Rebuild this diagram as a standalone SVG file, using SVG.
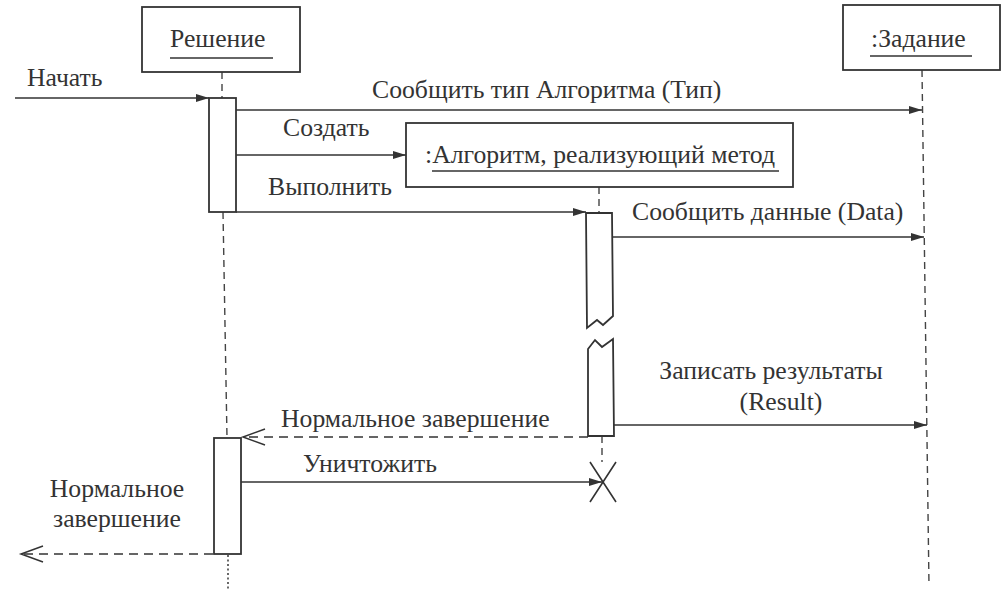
<svg xmlns="http://www.w3.org/2000/svg" width="1006" height="589" viewBox="0 0 1006 589">
<style>
.box{fill:#fff;stroke:#333;stroke-width:1.8}
.bar{fill:#fff;stroke:#333;stroke-width:1.8}
.life{fill:none;stroke:#444;stroke-width:1.4;stroke-dasharray:7,5}
.dot{fill:none;stroke:#444;stroke-width:1.6;stroke-dasharray:2,2.5}
.msg{fill:none;stroke:#333;stroke-width:1.6}
.ret{fill:none;stroke:#333;stroke-width:1.5;stroke-dasharray:9,6}
.ul{stroke:#333;stroke-width:1.5}
.t{font-family:'Liberation Serif','DejaVu Serif','Times New Roman',serif;font-size:25.7px;fill:#333}
</style>
<defs>
<marker id="fa" markerUnits="userSpaceOnUse" markerWidth="14" markerHeight="10" refX="13" refY="5" orient="auto">
<path d="M0,1 L13,5 L0,9 z" fill="#333"/>
</marker>
<marker id="oa" markerUnits="userSpaceOnUse" markerWidth="26" markerHeight="20" refX="23" refY="10" orient="auto">
<path d="M1,2 L23,10 L1,18" fill="none" stroke="#333" stroke-width="1.5"/>
</marker>
</defs>
<rect width="1006" height="589" fill="#fff"/>

<g id="reshenie">
<line class="life" x1="222" y1="72" x2="222" y2="98"/>
<line class="life" x1="223" y1="212" x2="227" y2="438"/>
<line class="dot" x1="228" y1="555" x2="228" y2="589"/>
<rect class="box" x="142" y="7" width="158" height="65"/>
<text class="t" x="170" y="47">Решение</text>
<line class="ul" x1="170" y1="58" x2="273" y2="58"/>
<rect class="bar" x="209" y="98" width="27" height="114"/>
<rect class="bar" x="214" y="438" width="27" height="116"/>
</g>

<g id="zadanie">
<path class="life" d="M922,70 L929,586"/>
<rect class="box" x="843" y="5" width="157" height="65"/>
<text class="t" x="871" y="47">:Задание</text>
<line class="ul" x1="870" y1="56" x2="972" y2="56"/>
</g>

<g id="algoritm">
<line class="life" x1="599" y1="187" x2="599" y2="213"/>
<line class="life" x1="602" y1="436" x2="602" y2="462"/>
<rect class="box" x="406" y="123" width="387" height="64"/>
<text class="t" x="425" y="163">:Алгоритм, реализующий метод</text>
<line class="ul" x1="432" y1="171" x2="779" y2="171"/>
<path class="bar" d="M586,213 L612,213 L613,316 L603,325 L597,320 L587,328 Z"/>
<path class="bar" d="M588,349 L595,340 L602,347 L613,339 L614,436 L588,436 Z"/>
<path class="msg" d="M590,462 L616,502 M616,462 L590,502" stroke-width="1.8"/>
</g>

<g id="connectors">
<line class="msg" x1="15" y1="98" x2="209" y2="98" marker-end="url(#fa)"/>
<text class="t" x="27" y="86">Начать</text>

<line class="msg" x1="236" y1="110" x2="922" y2="110" marker-end="url(#fa)"/>
<text class="t" x="372" y="98">Сообщить тип Алгоритма (Тип)</text>

<line class="msg" x1="236" y1="155" x2="406" y2="155" marker-end="url(#fa)"/>
<text class="t" x="283" y="136">Создать</text>

<line class="msg" x1="236" y1="212" x2="586" y2="212" marker-end="url(#fa)"/>
<text class="t" x="268" y="195">Выполнить</text>

<line class="msg" x1="612" y1="237" x2="924" y2="237" marker-end="url(#fa)"/>
<text class="t" x="632" y="220">Сообщить данные (Data)</text>

<line class="msg" x1="614" y1="425" x2="927" y2="425" marker-end="url(#fa)"/>
<text class="t" x="771" y="379" text-anchor="middle">Записать результаты</text>
<text class="t" x="781" y="410" text-anchor="middle">(Result)</text>

<line class="ret" x1="588" y1="437" x2="243" y2="437" marker-end="url(#oa)"/>
<text class="t" x="281" y="427">Нормальное завершение</text>

<line class="msg" x1="241" y1="482" x2="602" y2="482" marker-end="url(#fa)"/>
<text class="t" x="303" y="472">Уничтожить</text>

<line class="ret" x1="213" y1="554" x2="21" y2="554" marker-end="url(#oa)"/>
<text class="t" x="117" y="497" text-anchor="middle">Нормальное</text>
<text class="t" x="117" y="527" text-anchor="middle">завершение</text>
</g>
</svg>
